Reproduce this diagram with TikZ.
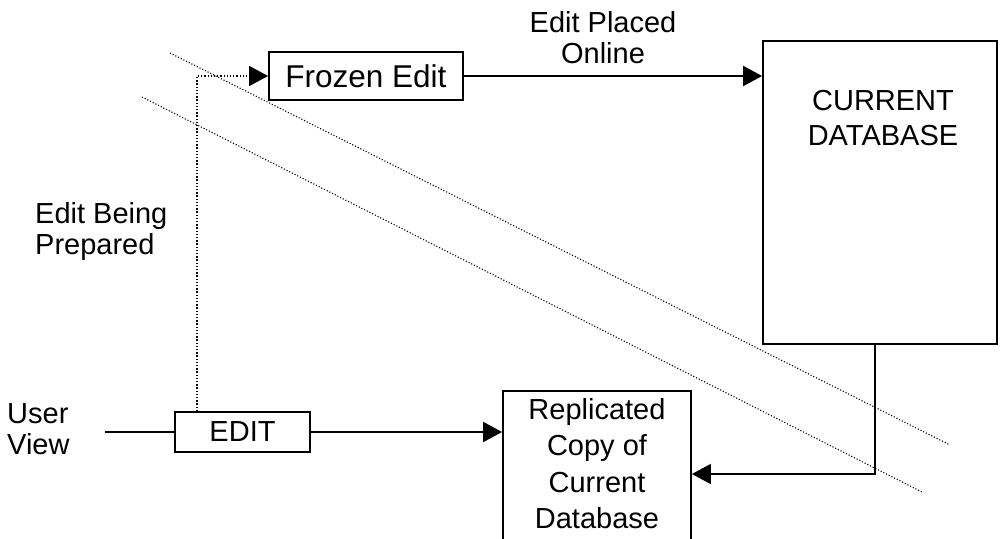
\documentclass[tikz,border=0pt]{standalone}
\usepackage{fontspec}
\setmainfont{Liberation Sans}
\usetikzlibrary{arrows.meta}
\begin{document}
\begin{tikzpicture}[x=1pt,y=-1pt,
  box/.style={draw,line width=1.8pt,inner sep=0pt,font=\fontsize{29}{36}\selectfont},
  lbl/.style={inner sep=0pt,font=\fontsize{29}{31}\selectfont},
  flow/.style={line width=1.8pt,-{Triangle[length=19pt,width=20pt]}},
  plain/.style={line width=1.8pt},
  guide/.style={line width=1.1pt,dash pattern=on 1.1pt off 1.9pt},
  dots/.style={line width=1.3pt,dash pattern=on 1.3pt off 1.9pt}]
\useasboundingbox (0,0) rectangle (1000,538);
\clip (0,0) rectangle (1000,538);

% two dotted guide lines crossing the page
\coordinate (g1a) at (170,53);
\coordinate (g1b) at (950,445);
\coordinate (g2a) at (142,97);
\coordinate (g2b) at (922,492);
\draw[guide] (g1a) -- (g1b);
\draw[guide] (g2a) -- (g2b);

% boxes
\node[box,minimum width=194pt,minimum height=48pt,font=\fontsize{31.5}{36}\selectfont] (froz) at (366,76) {Frozen Edit};
\node[box,minimum width=234pt,minimum height=303pt] (db) at (880,192.5) {};
\node[font=\fontsize{29}{35}\selectfont,align=center,inner sep=0pt] (dbtext) at (883,118) {CURRENT\\DATABASE};
\node[box,minimum width=188pt,minimum height=160pt] (rep) at (597,471) {};
\node[font=\fontsize{29}{36.5}\selectfont,align=center,inner sep=0pt,anchor=north] (reptext) at (597,398) {Replicated\\Copy of\\Current\\Database};
\node[box,minimum width=135pt,minimum height=40pt] (edit) at (242.5,432) {EDIT};

% labels
\node[lbl,align=center] (placed) at (603,38) {Edit Placed\\Online};
\node[lbl,align=left,anchor=west] (prep) at (35,231) {Edit Being\\Prepared};
\node[lbl,align=left,anchor=west] (user) at (7,429) {User\\View};

% connectors
\coordinate (uin) at (105,432);
\draw[plain] (uin) -- (edit.west);
\draw[flow] (edit.east) -- (edit.east -| rep.west);
\draw[flow] (froz.east) -- (froz.east -| db.west);
\coordinate (bend) at (197,76);
\draw[dots,-{Triangle[length=19pt,width=20pt]}] (edit.north -| bend) -- (bend) -- (froz.west);
\coordinate (turn) at (875,474);
\draw[flow] (db.south -| turn) -- (turn) -- (turn -| rep.east);
\end{tikzpicture}
\end{document}
